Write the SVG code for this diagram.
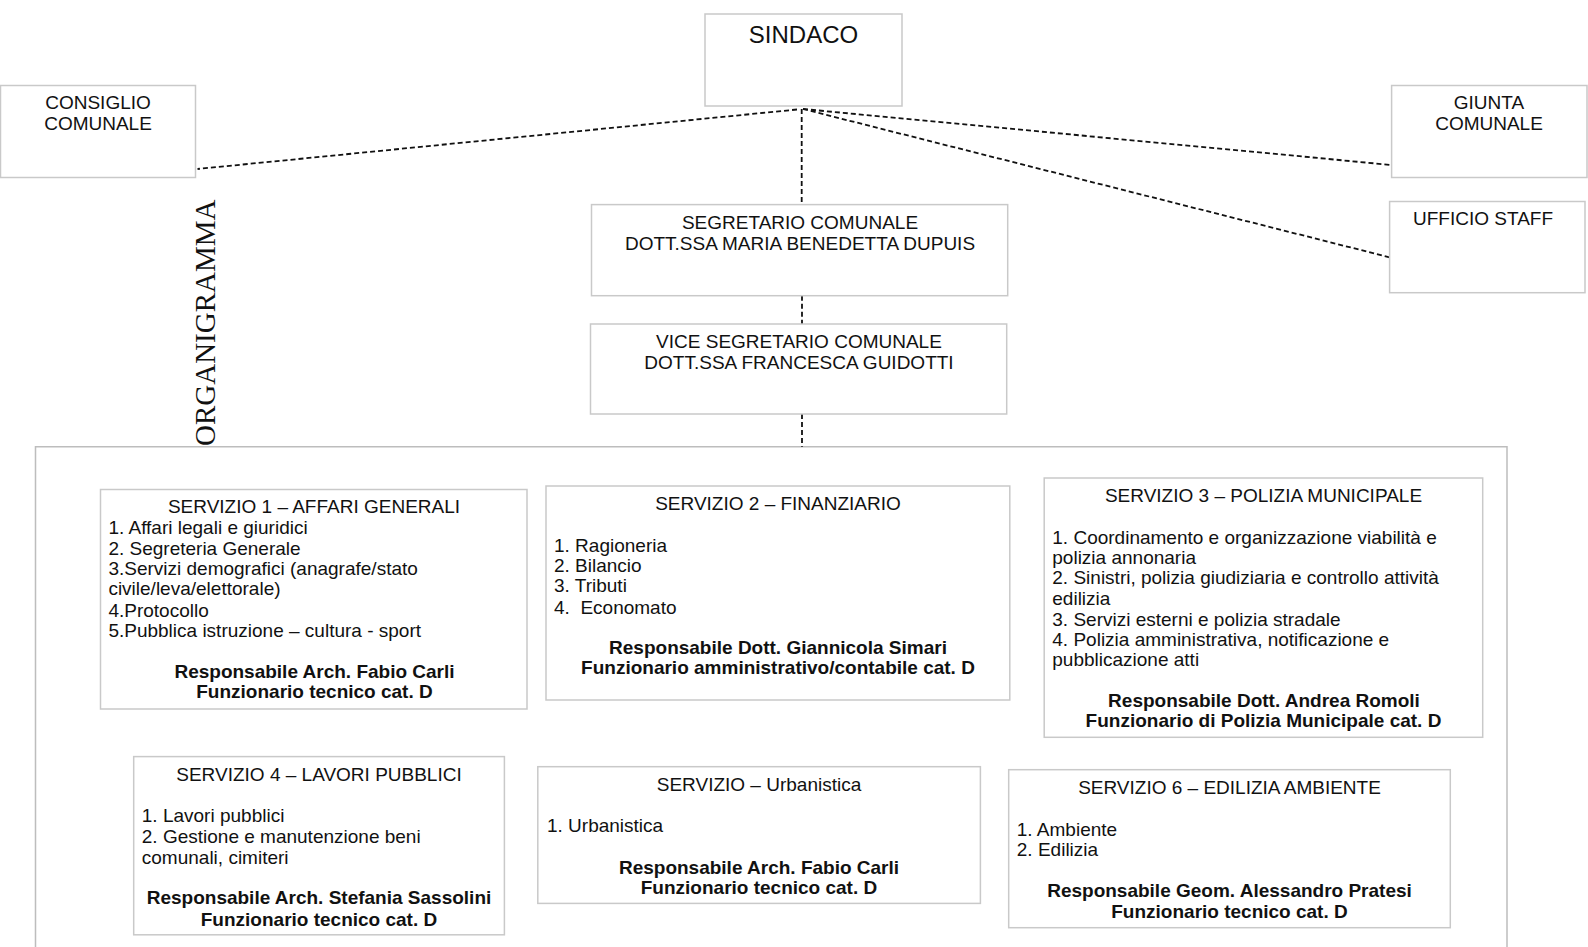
<svg xmlns="http://www.w3.org/2000/svg" width="1588" height="947" viewBox="0 0 1588 947">
<style>
.box{fill:#fff;stroke:#c9c9c9;stroke-width:1.5}
.t{font-family:"Liberation Sans",Arial,sans-serif;font-size:19px;fill:#111}
.c{text-anchor:middle}
.b{font-weight:bold}
.con{fill:none;stroke:#111;stroke-width:1.8;stroke-dasharray:5,3}
</style>
<rect x="0" y="0" width="1588" height="947" fill="#fff"/>
<g id="contenitore">
<path d="M35.5,960 V446.7 H1507 V960" fill="none" stroke="#bdbdbd" stroke-width="1.5"/>
</g>
<g id="titolo">
<text transform="translate(215,446) rotate(-90)" font-family="'Liberation Serif','Times New Roman',serif" font-size="29" fill="#111">ORGANIGRAMMA</text>
</g>
<g id="connettori">
<line class="con" x1="797" y1="109.5" x2="197.5" y2="169"/>
<line class="con" x1="801.7" y1="109" x2="801.7" y2="204.6"/>
<line class="con" x1="803" y1="109" x2="1391.6" y2="165"/>
<line class="con" x1="803" y1="109" x2="1389.6" y2="257.3"/>
<line class="con" x1="802" y1="295.7" x2="802" y2="324"/>
<line class="con" x1="802" y1="414" x2="802" y2="446.7"/>
</g>
<g id="sindaco">
<rect class="box" x="705" y="14" width="197" height="92"/>
<text class="t c" x="803.5" y="42.8" style="font-size:24px">SINDACO</text>
</g>
<g id="consiglio">
<rect class="box" x="0.5" y="85.5" width="195" height="92"/>
<text class="t c" x="98" y="109">CONSIGLIO</text>
<text class="t c" x="98" y="130">COMUNALE</text>
</g>
<g id="giunta">
<rect class="box" x="1391.6" y="85.5" width="195.4" height="92"/>
<text class="t c" x="1489" y="109">GIUNTA</text>
<text class="t c" x="1489" y="130">COMUNALE</text>
</g>
<g id="staff">
<rect class="box" x="1389.6" y="201.5" width="195.4" height="91.2"/>
<text class="t" x="1413" y="224.5">UFFICIO STAFF</text>
</g>
<g id="segretario">
<rect class="box" x="591.5" y="204.6" width="416.2" height="91.1"/>
<text class="t c" x="800" y="228.6">SEGRETARIO COMUNALE</text>
<text class="t c" x="800" y="249.8">DOTT.SSA MARIA BENEDETTA DUPUIS</text>
</g>
<g id="vicesegretario">
<rect class="box" x="590.5" y="324" width="416.2" height="90"/>
<text class="t c" x="799" y="348">VICE SEGRETARIO COMUNALE</text>
<text class="t c" x="799" y="368.5">DOTT.SSA FRANCESCA GUIDOTTI</text>
</g>
<g id="servizio1">
<rect class="box" x="100.5" y="489.5" width="426.5" height="219.5"/>
<text class="t c" x="314" y="513">SERVIZIO 1 – AFFARI GENERALI</text>
<text class="t" x="108.4" y="534">1. Affari legali e giuridici</text>
<text class="t" x="108.4" y="554.5">2. Segreteria Generale</text>
<text class="t" x="108.4" y="575">3.Servizi demografici (anagrafe/stato</text>
<text class="t" x="108.4" y="595.4">civile/leva/elettorale)</text>
<text class="t" x="108.4" y="616.5">4.Protocollo</text>
<text class="t" x="108.4" y="637">5.Pubblica istruzione – cultura - sport</text>
<text class="t c b" x="314.5" y="677.5">Responsabile Arch. Fabio Carli</text>
<text class="t c b" x="314.5" y="698">Funzionario tecnico cat. D</text>
</g>
<g id="servizio2">
<rect class="box" x="546" y="486" width="463.8" height="214"/>
<text class="t c" x="778" y="510.4">SERVIZIO 2 – FINANZIARIO</text>
<text class="t" x="554" y="552">1. Ragioneria</text>
<text class="t" x="554" y="572.2">2. Bilancio</text>
<text class="t" x="554" y="592.4">3. Tributi</text>
<text class="t" x="554" y="613.6" xml:space="preserve">4.  Economato</text>
<text class="t c b" x="778" y="654">Responsabile Dott. Giannicola Simari</text>
<text class="t c b" x="778" y="674.4">Funzionario amministrativo/contabile cat. D</text>
</g>
<g id="servizio3">
<rect class="box" x="1044.2" y="478" width="438.5" height="259.3"/>
<text class="t c" x="1263.5" y="502.3">SERVIZIO 3 – POLIZIA MUNICIPALE</text>
<text class="t" x="1052.3" y="543.8">1. Coordinamento e organizzazione viabilità e</text>
<text class="t" x="1052.3" y="564">polizia annonaria</text>
<text class="t" x="1052.3" y="584.3">2. Sinistri, polizia giudiziaria e controllo attività</text>
<text class="t" x="1052.3" y="604.6">edilizia</text>
<text class="t" x="1052.3" y="625.8">3. Servizi esterni e polizia stradale</text>
<text class="t" x="1052.3" y="646">4. Polizia amministrativa, notificazione e</text>
<text class="t" x="1052.3" y="666.3">pubblicazione atti</text>
<text class="t c b" x="1264" y="706.8">Responsabile Dott. Andrea Romoli</text>
<text class="t c b" x="1263.5" y="727">Funzionario di Polizia Municipale cat. D</text>
</g>
<g id="servizio4">
<rect class="box" x="133.7" y="756.6" width="370.7" height="178.2"/>
<text class="t c" x="319" y="780.8">SERVIZIO 4 – LAVORI PUBBLICI</text>
<text class="t" x="141.8" y="822.3">1. Lavori pubblici</text>
<text class="t" x="141.8" y="842.6">2. Gestione e manutenzione beni</text>
<text class="t" x="141.8" y="863.8">comunali, cimiteri</text>
<text class="t c b" x="319" y="904.3">Responsabile Arch. Stefania Sassolini</text>
<text class="t c b" x="319" y="925.6">Funzionario tecnico cat. D</text>
</g>
<g id="servizio-urbanistica">
<rect class="box" x="537.8" y="766.7" width="442.6" height="136.7"/>
<text class="t c" x="759" y="791">SERVIZIO – Urbanistica</text>
<text class="t" x="547" y="832.4">1. Urbanistica</text>
<text class="t c b" x="759" y="874">Responsabile Arch. Fabio Carli</text>
<text class="t c b" x="759" y="894.2">Funzionario tecnico cat. D</text>
</g>
<g id="servizio6">
<rect class="box" x="1008.7" y="769.7" width="441.6" height="158"/>
<text class="t c" x="1229.5" y="794">SERVIZIO 6 – EDILIZIA AMBIENTE</text>
<text class="t" x="1016.8" y="835.5">1. Ambiente</text>
<text class="t" x="1016.8" y="855.7">2. Edilizia</text>
<text class="t c b" x="1229.5" y="897.2">Responsabile Geom. Alessandro Pratesi</text>
<text class="t c b" x="1229.5" y="917.5">Funzionario tecnico cat. D</text>
</g>
</svg>
